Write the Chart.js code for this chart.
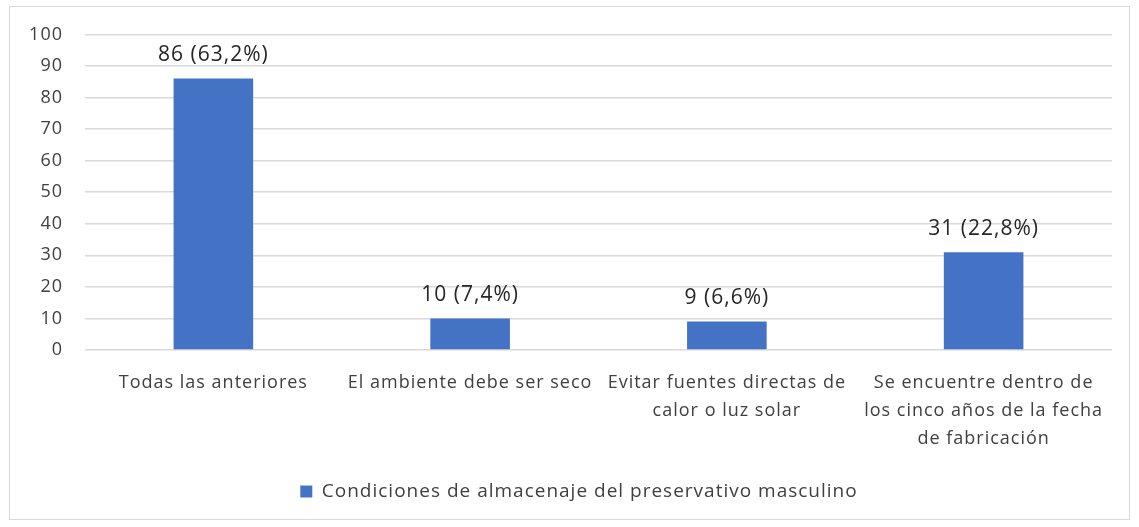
<!DOCTYPE html>
<html lang="es">
<head>
    <meta charset="UTF-8">
    <title>Condiciones de almacenaje</title>
    <style>
        body { margin: 0; background: #fff; }
        #box {
            position: absolute;
            left: 9px; top: 6px;
            width: 1119px; height: 512px;
            border: 1px solid #d9d9d9;
        }
    </style>
</head>
<body>
<script src="https://cdn.jsdelivr.net/npm/chart.js"></script>
<div id="box"><canvas id="c"></canvas></div>
<script>
    const categories = [
        'Todas las anteriores',
        'El ambiente debe ser seco',
        ['Evitar fuentes directas de', 'calor o luz solar'],
        ['Se encuentre dentro de', 'los cinco años de la fecha', 'de fabricación']
    ];
    const counts = [86, 10, 9, 31];
    const percents = ['63,2%', '7,4%', '6,6%', '22,8%'];
    const yTicks = [0, 10, 20, 30, 40, 50, 60, 70, 80, 90, 100];
    const seriesName = 'Condiciones de almacenaje del preservativo masculino';

    const FONT = '"Open Sans", Lato, sans-serif';

    // el texto del original es algo espaciado
    const spacing = {
        id: 'spacing',
        beforeUpdate(chart) { chart.ctx.letterSpacing = '1px'; },
        beforeDraw(chart) { chart.ctx.letterSpacing = '1px'; },
        afterLayout(chart) {
            // la leyenda del original está algo corrida a la derecha
            chart.legend.left += 18;
            chart.legend.right += 18;
        }
    };

    // etiquetas "n (x%)" encima de cada barra
    const valueLabels = {
        id: 'valueLabels',
        afterDatasetsDraw(chart) {
            const ctx = chart.ctx;
            const meta = chart.getDatasetMeta(0);
            ctx.save();
            ctx.font = '21px ' + FONT;
            ctx.fillStyle = '#262626';
            ctx.textAlign = 'center';
            ctx.textBaseline = 'bottom';
            meta.data.forEach((bar, i) => {
                ctx.fillText(counts[i] + ' (' + percents[i] + ')', bar.x, bar.y - 13);
            });
            ctx.restore();
        }
    };

    new Chart(document.getElementById('c'), {
        type: 'bar',
        data: {
            labels: categories,
            datasets: [{
                label: seriesName,
                data: counts,
                backgroundColor: '#4472C4',
                barPercentage: 0.31,
                categoryPercentage: 1
            }]
        },
        options: {
            responsive: true,
            maintainAspectRatio: false,
            animation: false,
            layout: { padding: { top: 0, right: 17, bottom: 8, left: 0 } },
            plugins: {
                tooltip: { enabled: false },
                legend: {
                    position: 'bottom',
                    labels: {
                        boxWidth: 12, boxHeight: 12,
                        color: '#404040',
                        font: { family: FONT, size: 19 },
                        padding: 6
                    }
                }
            },
            scales: {
                x: {
                    grid: { display: false },
                    border: { display: false },
                    ticks: {
                        color: '#404040',
                        font: { family: FONT, size: 18, lineHeight: 1.55 },
                        maxRotation: 0,
                        autoSkip: false,
                        padding: 11
                    },
                    afterFit(scale) { scale.height = 126; }
                },
                y: {
                    min: 0, max: 100,
                    afterBuildTicks(scale) { scale.ticks = yTicks.map(v => ({ value: v })); },
                    grid: { color: '#d9d9d9', lineWidth: 1.5, drawTicks: false },
                    border: { display: false },
                    ticks: {
                        color: '#404040',
                        font: { family: FONT, size: 18, lineHeight: 0.6 },
                        padding: 22
                    },
                    afterFit(scale) { scale.width = 75; }
                }
            }
        },
        plugins: [spacing, valueLabels]
    });
</script>
</body>
</html>
